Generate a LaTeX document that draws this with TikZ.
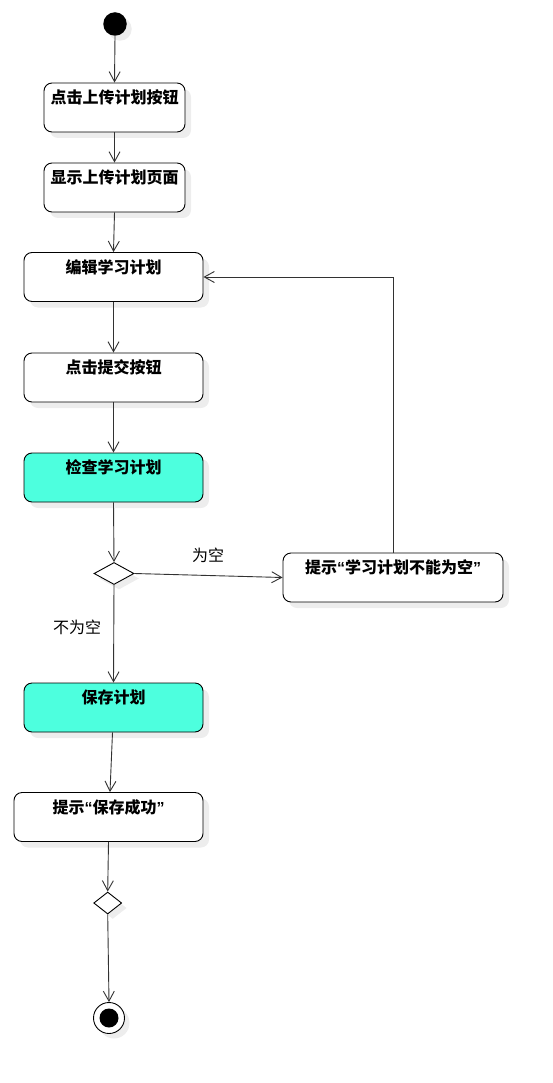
\documentclass[tikz,border=0pt]{standalone}
\usepackage{fontspec}
\newfontfamily\cjk{Noto Sans CJK SC}
\newfontfamily\latinq{Liberation Sans}
\newcommand\oq{{\latinq\bfseries “}}
\newcommand\cq{{\latinq\bfseries ”}}
\usetikzlibrary{arrows.meta,shapes.geometric,shadows}
\definecolor{linegray}{RGB}{50,50,50}
\definecolor{cyanfill}{RGB}{77,255,222}
\tikzset{
  abox/.style={rectangle, rounded corners=8pt, draw=black, line width=0.9pt, fill=white,
    inner xsep=0pt, inner ysep=0pt, text height=20.5pt, text depth=28.5pt,
    font=\cjk\bfseries\fontsize{16}{19}\selectfont,
    drop shadow={shadow xshift=6pt, shadow yshift=-6pt, fill=black, opacity=0.07}},
  hl/.style={fill=cyanfill},
  decision/.style={diamond, draw=black, line width=0.9pt, fill=white, inner sep=0pt,
    minimum width=40pt, minimum height=22pt,
    drop shadow={shadow xshift=5pt, shadow yshift=-5pt, fill=black, opacity=0.07}},
  arr/.style={draw=linegray, line width=0.9pt, -{Straight Barb[length=10pt,width=11pt,line width=0.9pt]}},
  glabel/.style={font=\cjk\fontsize{16}{19}\selectfont, inner sep=0pt}
}
\begin{document}
\begin{tikzpicture}[x=1pt,y=-1pt]
\useasboundingbox (0,0) rectangle (553,1083);
\fill[white] (0,0) rectangle (553,1083);
% start
\node[circle, fill=black, minimum size=23.5pt, inner sep=0pt,
  drop shadow={shadow xshift=5pt, shadow yshift=-5pt, fill=black, opacity=0.07}] (start) at (115,24) {};
% actions
\node[abox, minimum width=141pt] (b1) at (114.5,107.5) {点击上传计划按钮};
\node[abox, minimum width=141pt] (b2) at (114.5,187.5) {显示上传计划页面};
\node[abox, minimum width=179pt] (b3) at (113.5,277) {编辑学习计划};
\node[abox, minimum width=179pt] (b4) at (113.5,377.5) {点击提交按钮};
\node[abox, hl, minimum width=179pt] (b5) at (113.5,477.5) {检查学习计划};
\node[decision] (d1) at (114,573.5) {};
\node[abox, minimum width=220pt] (r) at (393,577.5) {提示\oq 学习计划不能为空\cq};
\node[abox, hl, minimum width=179pt] (b6) at (113.5,707.5) {保存计划};
\node[abox, minimum width=189pt] (b7) at (108.5,817) {提示\oq 保存成功\cq};
\node[decision, minimum width=28pt] (d2) at (107.7,903) {};
\node[circle, draw=black, line width=0.9pt, fill=white, minimum size=31pt, inner sep=0pt,
  drop shadow={shadow xshift=5pt, shadow yshift=-5pt, fill=black, opacity=0.07}] (end) at (109,1018) {};
\node[circle, fill=black, minimum size=19pt, inner sep=0pt] (endin) at (end.center) {};
% labels
\node[glabel] (lempty) at (208,555) {为空};
\node[glabel] (lnotempty) at (77,627) {不为空};
% connectors
\draw[arr] (start.south) -- (b1.north);
\draw[arr] (b1.south) -- (b2.north);
\draw[arr] (b2.south) -- (b3.north);
\draw[arr] (b3.south) -- (b4.north);
\draw[arr] (b4.south) -- (b5.north);
\draw[arr] (b5.south) -- (d1.north);
\draw[arr] (d1.east) -- (r.west);
\draw[arr] (r.north) |- (b3.east);
\draw[arr] (d1.south) -- (b6.north);
\draw[arr] ([xshift=-1pt]b6.south) -- ([xshift=1.5pt]b7.north);
\draw[arr] (b7.south) -- (d2.north);
\draw[arr] (d2.south) -- (end.north);
\end{tikzpicture}
\end{document}
